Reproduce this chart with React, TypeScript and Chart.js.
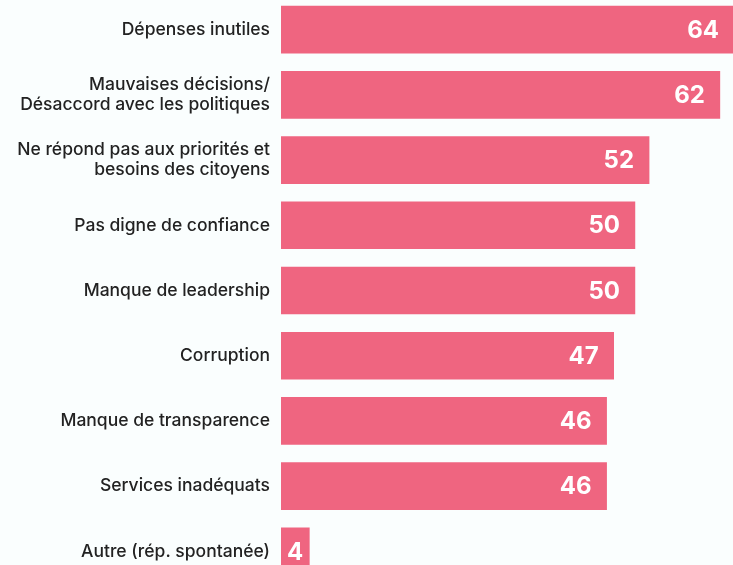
import React, { useEffect, useRef } from "react";
import { Chart, registerables } from "chart.js";

Chart.register(...registerables);

const categories: (string | string[])[] = [
  "Dépenses inutiles",
  ["Mauvaises décisions/", "Désaccord avec les politiques"],
  ["Ne répond pas aux priorités et", "besoins des citoyens"],
  "Pas digne de confiance",
  "Manque de leadership",
  "Corruption",
  "Manque de transparence",
  "Services inadéquats",
  "Autre (rép. spontanée)",
];
const values: number[] = [64, 62, 52, 50, 50, 47, 46, 46, 4];

const BAR_COLOR = "#EF6580";
const FONT = "Inter, 'Noto Sans', sans-serif";

const valueLabels = {
  id: "valueLabels",
  afterDatasetsDraw(chart: any) {
    const ctx = chart.ctx;
    const meta = chart.getDatasetMeta(0);
    ctx.save();
    ctx.font = `bold 24px ${FONT}`;
    ctx.fillStyle = "#ffffff";
    ctx.textBaseline = "middle";
    meta.data.forEach((bar: any, i: number) => {
      const txt = String(values[i]);
      const w = ctx.measureText(txt).width;
      const start = bar.base;
      const end = bar.x;
      let x = end - 15;
      if (x - w < start + 6) {
        ctx.textAlign = "center";
        x = (start + end) / 2;
      } else {
        ctx.textAlign = "right";
      }
      ctx.fillText(txt, x, bar.y + 1);
    });
    ctx.restore();
  },
};

export default function App() {
  const ref = useRef<HTMLCanvasElement | null>(null);
  useEffect(() => {
    if (!ref.current) return;
    const chart = new Chart(ref.current, {
      type: "bar",
      data: {
        labels: categories,
        datasets: [
          {
            data: values,
            backgroundColor: BAR_COLOR,
            barThickness: 47,
          },
        ],
      },
      options: {
        indexAxis: "y",
        animation: false,
        responsive: false,
        maintainAspectRatio: false,
        layout: { padding: 0 },
        plugins: { legend: { display: false }, tooltip: { enabled: false } },
        scales: {
          x: { display: false, min: 0, max: 64 },
          y: {
            grid: { display: false, drawTicks: false },
            border: { display: false },
            ticks: {
              color: "#222222",
              font: { family: FONT, size: 17.5, weight: "500", lineHeight: 1.15 },
              padding: 11,
            },
            afterFit(axis: any) {
              axis.width = 281;
              axis.paddingTop = 0;
              axis.paddingBottom = 0;
            },
          },
        },
      },
      plugins: [valueLabels],
    });
    return () => chart.destroy();
  }, []);
  return (
    <div
      style={{
        position: "absolute",
        left: 0,
        top: -3,
        width: 734,
        height: 587,
        background: "#fafefe",
      }}
    >
      <canvas ref={ref} width={734} height={587} style={{ display: "block" }} />
    </div>
  );
}
